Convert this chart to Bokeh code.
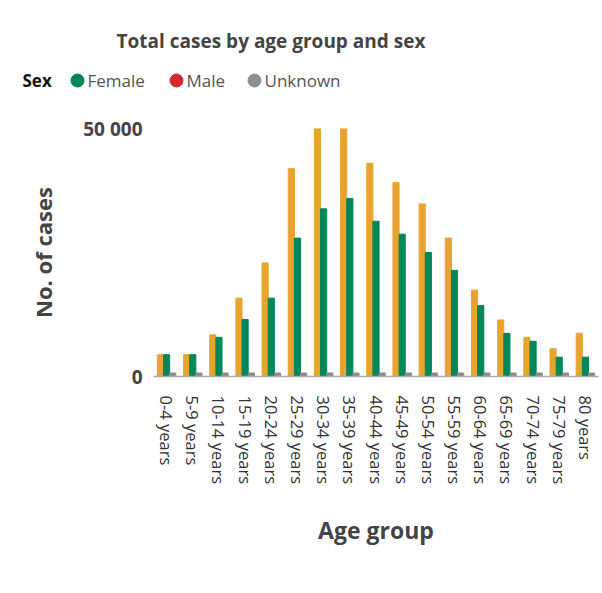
from bokeh.plotting import figure
from bokeh.models import ColumnDataSource, FactorRange, Range1d, FixedTicker, CustomJSTickFormatter
from bokeh.transform import dodge
from bokeh.layouts import column
from bokeh.core.properties import value
from bokeh.embed import file_html
from bokeh.resources import INLINE

FONT = "Open Sans"

age_groups = ["0-4 years", "5-9 years", "10-14 years", "15-19 years", "20-24 years",
              "25-29 years", "30-34 years", "35-39 years", "40-44 years", "45-49 years",
              "50-54 years", "55-59 years", "60-64 years", "65-69 years", "70-74 years",
              "75-79 years", "80 years and above"]
male = [4400, 4400, 8400, 15800, 22900, 41900, 55000, 56000, 43000, 39100,
        34800, 27900, 17400, 11400, 7900, 5600, 8700]
female = [4400, 4400, 7900, 11500, 15800, 27900, 33800, 35900, 31300, 28700,
          25000, 21400, 14300, 8700, 7100, 3900, 3900]
unknown = [700, 700, 700, 700, 700, 700, 700, 700, 700, 700,
           700, 700, 700, 700, 700, 700, 700]

legend_labels = ["Female", "Male", "Unknown"]
legend_colors = ["#00875A", "#D7262E", "#8E9194"]
y_ticks = [0, 50000]
y_tick_labels = {0: "0", 50000: "50 000"}

C_MALE = "#E9A42F"
C_FEMALE = "#00875A"
C_UNKNOWN = "#8C8C8C"

# ---------------- header (title + legend) ----------------
W = 602
HDR_H = 100
hdr = figure(width=W, height=HDR_H, x_range=Range1d(0, W), y_range=Range1d(HDR_H, 0),
             output_backend="svg", toolbar_location=None,
             x_axis_location=None, y_axis_location=None, min_border=0)
hdr.frame_align = False
hdr.outline_line_color = None
hdr.xgrid.visible = False
hdr.ygrid.visible = False

hdr.text(x=[270.5], y=[40], text=["Total cases by age group and sex"],
         text_font=value(FONT), text_font_style="bold", text_font_size="19px",
         text_color="#444444", text_align="center", text_baseline="middle")
hdr.text(x=[22], y=[80], text=["Sex"], text_font=value(FONT), text_font_style="bold",
         text_font_size="17px", text_color="#111111", text_align="left", text_baseline="middle")
leg_src = ColumnDataSource(dict(cx=[77, 176, 254], tx=[87, 186, 264], y=[80, 80, 80],
                                label=legend_labels, color=legend_colors))
hdr.scatter(x="cx", y="y", size=13, color="color", source=leg_src)
hdr.text(x="tx", y="y", text="label", source=leg_src, text_font=value(FONT),
         text_font_size="17px", text_color="#555555", text_align="left", text_baseline="middle")

# ---------------- main chart ----------------
source = ColumnDataSource(dict(age=age_groups, male=male, female=female, unknown=unknown))

p = figure(width=W, height=470, x_range=FactorRange(*age_groups), y_range=Range1d(0, 50000),
           output_backend="svg", toolbar_location=None,
           min_border_top=28, min_border_left=153, min_border_right=4, min_border_bottom=194)
p.frame_align = False
p.outline_line_color = None

p.vbar(x=dodge("age", -0.235, range=p.x_range), top="male", width=0.235, source=source,
       color=C_MALE)
p.vbar(x=dodge("age", 0.0, range=p.x_range), top="female", width=0.235, source=source,
       color=C_FEMALE)
p.vbar(x=dodge("age", 0.235, range=p.x_range), top="unknown", width=0.235, source=source,
       color=C_UNKNOWN)

p.xgrid.visible = False
p.ygrid.ticker = FixedTicker(ticks=y_ticks)
p.ygrid.grid_line_color = "#b5b5b5"
p.ygrid.grid_line_width = 1

p.yaxis.ticker = FixedTicker(ticks=y_ticks)
p.yaxis.major_label_overrides = y_tick_labels
p.yaxis.axis_line_color = None
p.yaxis.major_tick_line_color = None
p.yaxis.minor_tick_line_color = None
p.yaxis.major_label_standoff = 5
p.yaxis.major_label_text_font = FONT
p.yaxis.major_label_text_font_style = "bold"
p.yaxis.major_label_text_font_size = "19px"
p.yaxis.major_label_text_color = "#444444"
p.yaxis.axis_label = "No. of cases"
p.yaxis.axis_label_text_font = FONT
p.yaxis.axis_label_text_font_style = "bold"
p.yaxis.axis_label_text_font_size = "22px"
p.yaxis.axis_label_text_color = "#444444"
p.yaxis.axis_label_standoff = 22

# the last label wraps in the original; only its first line fits in the window
p.xaxis.formatter = CustomJSTickFormatter(
    code='return tick == "80 years and above" ? "80 years" : tick;')
p.xaxis.axis_line_color = "#aaaaaa"
p.xaxis.axis_line_width = 1.5
p.xaxis.major_tick_line_color = None
p.xaxis.minor_tick_line_color = None
p.xaxis.major_label_orientation = "vertical"
p.xaxis.major_label_standoff = 13
p.xaxis.major_label_text_font = FONT
p.xaxis.major_label_text_font_size = "16.5px"
p.xaxis.major_label_text_color = "#333333"
p.xaxis.axis_label = "Age group"
p.xaxis.axis_label_text_font = FONT
p.xaxis.axis_label_text_font_style = "bold"
p.xaxis.axis_label_text_font_size = "23px"
p.xaxis.axis_label_text_color = "#444444"
p.xaxis.axis_label_standoff = 27

layout = column(hdr, p, spacing=0)
open("out.html", "w").write(file_html(layout, INLINE))
